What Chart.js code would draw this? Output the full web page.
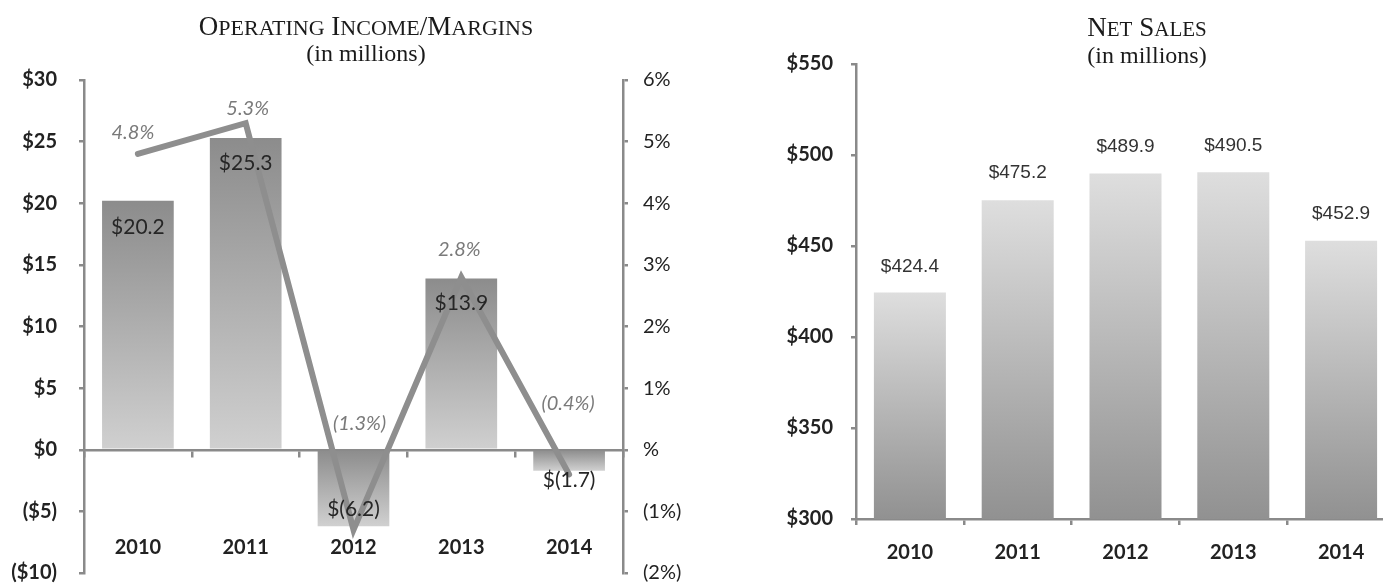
<!DOCTYPE html>
<html>
<head>
<meta charset="utf-8">
<script src="https://cdn.jsdelivr.net/npm/chart.js@4/dist/chart.umd.min.js"></script>
<style>
  html, body { margin: 0; padding: 0; background: #fff; overflow: hidden; }
  body { width: 1383px; height: 587px; position: relative; }
  canvas { position: absolute; top: 0; }
  #incomeChart { left: 0; }
  #salesChart { left: 740px; }
</style>
</head>
<body>
<canvas id="incomeChart" width="740" height="587"></canvas>
<canvas id="salesChart" width="660" height="587"></canvas>
<script>
const years = ['2010', '2011', '2012', '2013', '2014'];
const opIncome = [20.2, 25.3, -6.2, 13.9, -1.7];
const opMargin = [4.8, 5.3, -1.3, 2.8, -0.4];
const netSales = [424.4, 475.2, 489.9, 490.5, 452.9];

Chart.defaults.font.family = 'Lato';
const AXIS = '#8a8a8a';
const INK = '#222';
const SERIF = "'Liberation Serif'";

function money(v) {
  return v < 0 ? '$(' + (-v).toFixed(1) + ')' : '$' + v.toFixed(1);
}
function pct(v) {
  return v < 0 ? '(' + (-v).toFixed(1) + '%)' : v.toFixed(1) + '%';
}

// vertical gradient over the bar, from its top pixel to bottom pixel
function barGradient(top, bottom) {
  return (c) => {
    const chart = c.chart;
    if (!chart.chartArea || c.parsed == null) return top;
    const ys = chart.scales.y;
    const a = ys.getPixelForValue(c.parsed.y);
    const b = ys.getPixelForValue(Math.max(0, ys.min));
    const y0 = Math.min(a, b), y1 = Math.max(a, b);
    const g = chart.ctx.createLinearGradient(0, y0, 0, y1 + 0.01);
    g.addColorStop(0, top);
    g.addColorStop(1, bottom);
    return g;
  };
}

// small caps by hand: capitals at full size, lower case as smaller capitals
function smallCaps(c, text, cx, y, big, small) {
  const runs = [];
  for (const ch of text) {
    const low = ch !== ch.toUpperCase();
    const size = low ? small : big;
    const t = low ? ch.toUpperCase() : ch;
    const last = runs[runs.length - 1];
    if (last && last.size === size) last.t += t;
    else runs.push({ t, size });
  }
  let w = 0;
  runs.forEach((r) => {
    c.font = r.size + 'px ' + SERIF;
    r.w = c.measureText(r.t).width;
    w += r.w;
  });
  let x = cx - w / 2;
  c.textAlign = 'left';
  c.textBaseline = 'alphabetic';
  runs.forEach((r) => {
    c.font = r.size + 'px ' + SERIF;
    c.fillText(r.t, x, y);
    x += r.w;
  });
}

const headings = {
  id: 'headings',
  afterDraw(chart, args, opts) {
    const c = chart.ctx;
    c.save();
    c.fillStyle = '#1a1a1a';
    smallCaps(c, opts.title, opts.x, opts.titleY, opts.big, opts.small);
    c.textAlign = 'center';
    c.textBaseline = 'middle';
    c.font = '24px ' + SERIF;
    c.fillText(opts.sub, opts.x, opts.subY);
    c.restore();
  },
};

const valueLabels = {
  id: 'valueLabels',
  afterDatasetsDraw(chart, args, opts) {
    const c = chart.ctx;
    c.save();
    c.textAlign = 'center';
    c.textBaseline = 'middle';
    (opts.sets || []).forEach((s) => {
      const meta = chart.getDatasetMeta(s.index);
      const vals = chart.data.datasets[s.index].data;
      c.font = s.font;
      c.fillStyle = s.color;
      meta.data.forEach((el, i) => {
        const dx = s.dx ? s.dx[i] : 0;
        c.fillText(s.format(vals[i]), el.x + dx, el.y + s.dy[i]);
      });
    });
    c.restore();
  },
};

// keep tick padding from pushing the plot area around
function fixWidth(w) {
  return (s) => {
    s.width = w;
    s.paddingTop = 0;
    s.paddingBottom = 0;
  };
}

new Chart(document.getElementById('incomeChart'), {
  data: {
    labels: years,
    datasets: [
      {
        type: 'line',
        label: 'Operating margin',
        data: opMargin,
        yAxisID: 'y1',
        borderColor: '#8e8e8e',
        borderWidth: 6,
        borderCapStyle: 'round',
        borderJoinStyle: 'miter',
        pointRadius: 0,
        tension: 0,
        order: 0,
      },
      {
        type: 'bar',
        label: 'Operating income',
        data: opIncome,
        yAxisID: 'y',
        backgroundColor: barGradient('#8c8c8c', '#d0d0d0'),
        barPercentage: 0.665,
        categoryPercentage: 1,
        order: 1,
      },
    ],
  },
  options: {
    responsive: false,
    animation: false,
    layout: { padding: { top: 80, bottom: 14, left: 0, right: 0 } },
    plugins: {
      legend: { display: false },
      tooltip: { enabled: false },
      headings: { x: 366, title: 'Operating Income/Margins', titleY: 35, big: 27, small: 22, sub: '(in millions)', subY: 55 },
      valueLabels: {
        sets: [
          { index: 1, format: money, font: '21px Lato', color: '#262626', dy: [26, 25, -17, 25, 10] },
          { index: 0, format: pct, font: 'italic 20px Lato', color: '#7a7a7a', dx: [-5, 2, 6, -2, -1], dy: [-21, -15, -106, -28, -71] },
        ],
      },
    },
    scales: {
      x: {
        type: 'category',
        position: { y: 0 },
        offset: true,
        grid: { drawOnChartArea: false, offset: true, tickLength: 6, color: AXIS, lineWidth: 2.5 },
        border: { color: AXIS, width: 2.5 },
        ticks: { padding: 80, color: INK, font: { size: 20, weight: 'bold' } },
      },
      y: {
        position: 'left',
        min: -10,
        max: 30,
        ticks: {
          stepSize: 5,
          padding: 22,
          color: INK,
          font: { size: 20, weight: 'bold' },
          callback: (v) => (v < 0 ? '($' + -v + ')' : '$' + v),
        },
        grid: { drawOnChartArea: false, tickLength: 5, color: AXIS, lineWidth: 2.5 },
        border: { color: AXIS, width: 2.5 },
        afterFit: fixWidth(84),
      },
      y1: {
        position: 'right',
        min: -2,
        max: 6,
        ticks: {
          stepSize: 1,
          padding: 15,
          color: INK,
          font: { size: 20 },
          callback: (v) => (v === 0 ? '%' : v < 0 ? '(' + -v + '%)' : v + '%'),
        },
        grid: { drawOnChartArea: false, tickLength: 5, color: AXIS, lineWidth: 2.5 },
        border: { color: AXIS, width: 2.5 },
        afterFit: fixWidth(117),
      },
    },
  },
  plugins: [headings, valueLabels],
});

new Chart(document.getElementById('salesChart'), {
  type: 'bar',
  data: {
    labels: years,
    datasets: [
      {
        label: 'Net sales',
        data: netSales,
        backgroundColor: barGradient('#dedede', '#919191'),
        barPercentage: 0.668,
        categoryPercentage: 1,
      },
    ],
  },
  options: {
    responsive: false,
    animation: false,
    layout: { padding: { top: 64, bottom: 0, left: 0, right: 5 } },
    plugins: {
      legend: { display: false },
      tooltip: { enabled: false },
      headings: { x: 407, title: 'Net Sales', titleY: 36, big: 27, small: 21, sub: '(in millions)', subY: 57 },
      valueLabels: {
        sets: [
          { index: 0, format: (v) => '$' + v.toFixed(1), font: "19px 'Liberation Sans'", color: '#333', dy: [-26, -27, -27, -27, -27] },
        ],
      },
    },
    scales: {
      x: {
        offset: true,
        grid: { drawOnChartArea: false, offset: true, tickLength: 6, color: AXIS, lineWidth: 2.5 },
        border: { color: AXIS, width: 2.5 },
        ticks: { padding: 16, color: INK, font: { size: 20, weight: 'bold' } },
        afterFit: (s) => { s.height = 68; },
      },
      y: {
        min: 300,
        max: 550,
        ticks: {
          stepSize: 50,
          padding: 18,
          color: INK,
          font: { size: 20, weight: 'bold' },
          callback: (v) => '$' + v,
        },
        grid: { drawOnChartArea: false, tickLength: 5, color: AXIS, lineWidth: 2.5 },
        border: { color: AXIS, width: 2.5 },
        afterFit: fixWidth(116),
      },
    },
  },
  plugins: [headings, valueLabels],
});
</script>
</body>
</html>
